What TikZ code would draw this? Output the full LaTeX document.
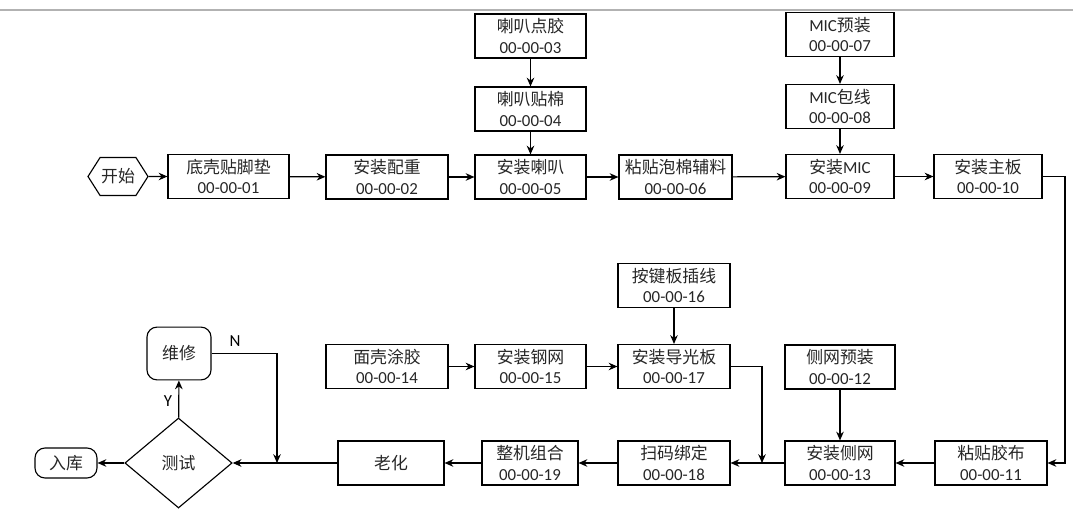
\documentclass[tikz,border=0pt]{standalone}
\usepackage{fontspec}
\setmainfont{Carlito}
\newfontfamily\cjk{Noto Sans CJK SC}
\usepackage{tikz}
\usetikzlibrary{arrows.meta,positioning,calc,shapes.geometric,shapes.symbols}
\newcommand{\cn}[1]{{\cjk #1}}
\tikzset{
  stepbox/.style={draw,line width=0.8pt,align=center,inner sep=1pt,minimum height=1.1cm,
    font=\fontsize{12}{14.5}\selectfont,text=black!85},
  roundbox/.style={stepbox,rounded corners=2.5mm},
  flow/.style={->,line width=0.8pt},
  yn/.style={font=\fontsize{12}{14}\selectfont}
}
\begin{document}
\begin{tikzpicture}[x=0.025cm,y=-0.025cm,>={Stealth[length=2.2mm,width=1.9mm]}]
  \useasboundingbox (0,0) rectangle (1073,512);
  \draw[black!30,line width=0.8pt] (0,10) -- (1073,10);
  % process boxes: name/x/y/width/step/code
  \foreach \n/\x/\y/\w/\s/\c in {
      b01/228.5/176.5/121/{\cn{底壳贴脚垫}}/01, b02/387/177/122/{\cn{安装配重}}/02,
      b03/530.5/36/111/{\cn{喇叭点胶}}/03, b04/530.5/109/111/{\cn{喇叭贴棉}}/04,
      b05/530.5/177/111/{\cn{安装喇叭}}/05, b06/675.5/177/113/{\cn{粘贴泡棉辅料}}/06,
      b07/840/34.5/108/{MIC\cn{预装}}/07, b08/840/106.5/108/{MIC\cn{包线}}/08,
      b09/840/176.5/108/{\cn{安装}MIC}/09, b10/988/176.5/108/{\cn{安装主板}}/10,
      b11/991/463/112/{\cn{粘贴胶布}}/11, b12/840/367/110/{\cn{侧网预装}}/12,
      b13/840/463/110/{\cn{安装侧网}}/13, b14/387/366.5/122/{\cn{面壳涂胶}}/14,
      b15/530.5/366.5/111/{\cn{安装钢网}}/15, b16/674/285.5/112/{\cn{按键板插线}}/16,
      b17/674/366.5/112/{\cn{安装导光板}}/17, b18/674/463/112/{\cn{扫码绑定}}/18,
      b19/530/463/96/{\cn{整机组合}}/19}{
    \pgfmathsetmacro{\ww}{\w*0.025}
    \node[stepbox,minimum width=\ww cm] (\n) at (\x,\y) {\s\\00-00-\c};}
  \node[stepbox,minimum width=2.65cm] (aging) at (391,463) {\cn{老化}};
  \node[stepbox,shape=signal,signal from=nowhere,signal to=east and west,signal pointer angle=115,
    minimum height=0.95cm,minimum width=1.5cm,inner sep=0pt] (start) at (118,176.5) {\cn{开始}};
  \node[roundbox,minimum width=1.6cm,minimum height=1.32cm] (repair) at (179,353.5) {\cn{维修}};
  \node[roundbox,minimum width=1.55cm,minimum height=0.75cm] (store) at (66,463) {\cn{入库}};
  \node[stepbox,shape=diamond,aspect=1.19,minimum width=2.68cm,minimum height=2.25cm,inner sep=0pt] (test) at (178.5,463) {\cn{测试}};
  % junctions
  \coordinate (rt) at (1065,320);
  \coordinate (j1) at (762,463);
  \coordinate (j2) at (277,463);
  % top row
  \draw[flow] (start) -- (b01);
  \draw[flow] (b01) -- (b02);
  \draw[flow] (b02) -- (b05);
  \draw[flow] (b05) -- (b06);
  \draw[flow] (b06) -- (b09);
  \draw[flow] (b09) -- (b10);
  \draw[flow] (b03) -- (b04);
  \draw[flow] (b04) -- (b05);
  \draw[flow] (b07) -- (b08);
  \draw[flow] (b08) -- (b09);
  \draw[flow] (b10.east) -| (rt) |- (b11.east);
  % middle and bottom rows
  \draw[flow] (b11) -- (b13);
  \draw[flow] (b12) -- (b13);
  \draw[flow] (b13) -- (b18);
  \draw[flow] (b14) -- (b15);
  \draw[flow] (b15) -- (b17);
  \draw[flow] (b16) -- (b17);
  \draw[flow] (b17.east) -| (j1);
  \draw[flow] (b18) -- (b19);
  \draw[flow] (b19) -- (aging);
  \draw[flow] (aging) -- (test);
  \draw[flow] (test) -- (repair) node[yn,pos=0.45,left=1pt] {Y};
  \draw[flow] (repair.east) -| (j2);
  \node[yn] (nlab) at (235,341) {N};
  \draw[flow] (test) -- (store);
\end{tikzpicture}
\end{document}
